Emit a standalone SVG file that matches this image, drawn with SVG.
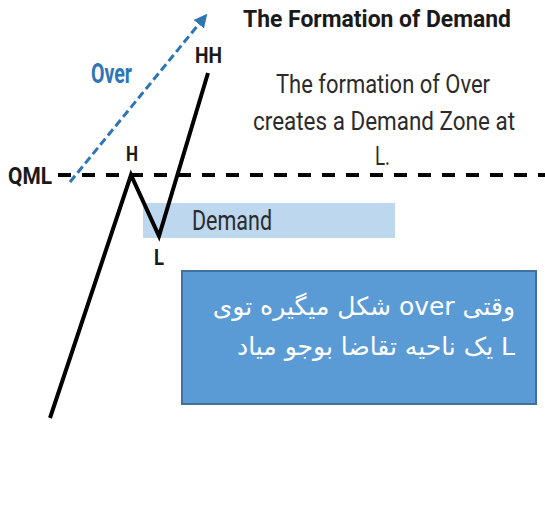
<svg xmlns="http://www.w3.org/2000/svg" width="545" height="523" viewBox="0 0 545 523">
<style>
.cond{font-family:"Roboto","Liberation Sans",sans-serif;}
.b{font-weight:bold;}
.lbl{fill:#1a1a1a;}
.body{font-size:26px;fill:#2b2b2b;}
.fa{font-family:"DejaVu Sans","Noto Sans",sans-serif;font-size:25px;fill:#fff;}
</style>
<defs>
<marker id="ah" viewBox="0 0 10 10" refX="5" refY="5" markerWidth="4.5" markerHeight="4.5" orient="auto" markerUnits="strokeWidth">
<path d="M0,0 L10,5 L0,10 Z" fill="#2e75b6"/>
</marker>
</defs>
<rect width="545" height="523" fill="#fff"/>
<g id="demand-zone">
<rect x="143" y="203" width="252" height="35" fill="#bdd7ee"/>
<text class="cond" x="192" y="230" font-size="27" fill="#2b2b2b" textLength="80" lengthAdjust="spacingAndGlyphs">Demand</text>
</g>
<g id="connectors">
<line x1="58" y1="175" x2="545" y2="175" stroke="#000" stroke-width="4" stroke-dasharray="13,11"/>
<line x1="70" y1="182" x2="203" y2="19" stroke="#2e75b6" stroke-width="3" stroke-dasharray="8,4" marker-end="url(#ah)"/>
<polyline points="50,418 131,175 159,236 208,73" fill="none" stroke="#000" stroke-width="4" stroke-linejoin="miter"/>
</g>
<g id="labels">
<text class="cond b lbl" x="8" y="184" font-size="24" textLength="44" lengthAdjust="spacingAndGlyphs">QML</text>
<text class="cond b lbl" x="126" y="161" font-size="21" textLength="12" lengthAdjust="spacingAndGlyphs">H</text>
<text class="cond b lbl" x="195" y="63" font-size="22" textLength="27" lengthAdjust="spacingAndGlyphs">HH</text>
<text class="cond b lbl" x="154" y="265" font-size="22" textLength="10" lengthAdjust="spacingAndGlyphs">L</text>
<text class="cond b" x="91" y="83" font-size="27" fill="#2e75b6" textLength="41" lengthAdjust="spacingAndGlyphs">Over</text>
</g>
<g id="title">
<text class="cond b lbl" x="243" y="27" font-size="24" textLength="268" lengthAdjust="spacingAndGlyphs">The Formation of Demand</text>
<text class="cond body" x="276" y="93" textLength="214" lengthAdjust="spacingAndGlyphs">The formation of Over</text>
<text class="cond body" x="253" y="130" textLength="262" lengthAdjust="spacingAndGlyphs">creates a Demand Zone at</text>
<text class="cond body" x="375" y="165" textLength="15" lengthAdjust="spacingAndGlyphs">L.</text>
</g>
<g id="note">
<rect x="182" y="271" width="354" height="133" fill="#5b9bd5" stroke="#41719c" stroke-width="2"/>
<text class="fa" x="515" y="315" text-anchor="start" direction="rtl">وقتی over شکل میگیره توی</text>
<text class="fa" x="515" y="355" text-anchor="start" direction="rtl">L یک ناحیه تقاضا بوجو میاد</text>
</g>
</svg>
